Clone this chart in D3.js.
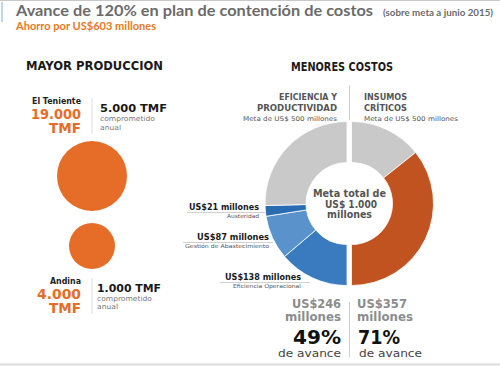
<!DOCTYPE html>
<html><head><meta charset="utf-8">
<script src="https://cdn.jsdelivr.net/npm/d3@7"></script>
<style>html,body{margin:0;padding:0;background:#fff;}svg{display:block;}</style>
</head><body>
<svg id="c" width="500" height="366"></svg>
<script>
// ---- data ----
const titleMain = "Avance de 120% en plan de contención de costos";
const titleNote = "(sobre meta a junio 2015)";
const subtitle = "Ahorro por US$603 millones";
const leftHeader = "MAYOR PRODUCCION";
const rightHeader = "MENORES COSTOS";
const plants = ["El Teniente", "Andina"];
const plantProduction = [19000, 4000];
const plantCommitted = [5000, 1000];
const halfNames = [["EFICIENCIA Y", "PRODUCTIVIDAD"], ["INSUMOS", "CRÍTICOS"]];
const halfGoals = [500, 500];
const efficiencyItems = ["Eficiencia Operacional", "Gestión de Abastecimiento", "Austeridad"];
const efficiencyValues = [138, 87, 21];
const insumosValues = [357];
const totalGoal = 1000;

const loc = d3.formatLocale({decimal: ",", thousands: ".", grouping: [3], currency: ["US$", ""]});
const fmtN = loc.format(",");
const fmtP = d3.format(".0%");

const svg = d3.select("#c");
const BODY = "'DejaVu Sans', sans-serif";
const TITLE = "Lato, 'Open Sans', sans-serif";

function txt(g, s, o) {
  const t = g.append("text").text(s)
    .attr("x", o.x).attr("y", o.y)
    .attr("text-anchor", o.a || "start")
    .attr("font-family", o.f || BODY)
    .attr("font-size", o.s)
    .attr("font-weight", o.b ? "bold" : "normal")
    .attr("fill", o.c || "#1a1a1a");
  if (o.w) t.attr("textLength", o.w).attr("lengthAdjust", "spacingAndGlyphs");
  return t;
}
function line(x1, y1, x2, y2, c, w) {
  svg.append("line").attr("x1", x1).attr("y1", y1).attr("x2", x2).attr("y2", y2)
    .attr("stroke", c).attr("stroke-width", w || 1);
}

// frame
line(0, 0.5, 500, 0.5, "#c8c8c8", 1);
line(2, 2, 2, 22, "#a9c9e8", 1.5);
line(0, 364.5, 500, 364.5, "#dcdcdc", 2);

// titles
txt(svg, titleMain, {x: 16, y: 15.5, s: 16, b: 1, c: "#6b6b6b", f: TITLE, w: 357});
txt(svg, titleNote, {x: 383, y: 15.5, s: 9.5, b: 1, c: "#6b6b6b", f: TITLE, w: 110});
txt(svg, subtitle, {x: 16, y: 30, s: 11.5, b: 1, c: "#e8791e", f: TITLE, w: 140});

// ---- left: production circles ----
txt(svg, leftHeader, {x: 26, y: 70, s: 11.5, b: 1, w: 137});
const ORANGE = "#e66d27";
const rScale = d3.scalePow().exponent(0.27).domain([0, d3.max(plantProduction)]).range([0, 35]);
const circleY = [176, 246];
svg.selectAll("circle.p").data(plantProduction).join("circle")
  .attr("class", "p").attr("cx", 92).attr("cy", (d, i) => circleY[i])
  .attr("r", d => rScale(d)).attr("fill", ORANGE);

const blocks = [
  {top: 104, nameW: 49, numW: 50, bigW: 67, bigX: 100, sub: [121, 130], bigY: 112},
  {top: 284, nameW: 31, numW: 44, bigW: 64, bigX: 97, sub: [300.5, 308.5], bigY: 292}
];
plants.forEach((p, i) => {
  const b = blocks[i];
  txt(svg, p, {x: 81, y: b.top, a: "end", s: 8.5, b: 1, c: "#222", w: b.nameW});
  txt(svg, fmtN(plantProduction[i]), {x: 81, y: b.top + 14.5, a: "end", s: 14, b: 1, c: ORANGE, w: b.numW});
  txt(svg, "TMF", {x: 81, y: b.top + 28.5, a: "end", s: 14, b: 1, c: ORANGE, w: 32});
  line(92, b.top - 6, 92, b.top + 30, "#dddddd", 1);
  txt(svg, fmtN(plantCommitted[i]) + " TMF", {x: b.bigX, y: b.bigY, s: 11, b: 1, c: "#1a1a1a", w: b.bigW});
  txt(svg, "comprometido", {x: b.bigX, y: b.sub[0], s: 7, c: "#777", w: 55});
  txt(svg, "anual", {x: b.bigX, y: b.sub[1], s: 7, c: "#777", w: 21});
});

// ---- right: donut ----
txt(svg, rightHeader, {x: 291, y: 71, s: 11.5, b: 1, w: 102});
line(349.5, 85, 349.5, 120, "#cccccc", 1);
const HG = "#555";
txt(svg, halfNames[0][0], {x: 337, y: 100, a: "end", s: 9, b: 1, c: HG, w: 58});
txt(svg, halfNames[0][1], {x: 337, y: 111, a: "end", s: 9, b: 1, c: HG, w: 80});
txt(svg, "Meta de US$ " + halfGoals[0] + " millones", {x: 337, y: 121, a: "end", s: 6.5, c: HG, w: 94});
txt(svg, halfNames[1][0], {x: 364, y: 100, s: 9, b: 1, c: HG, w: 43});
txt(svg, halfNames[1][1], {x: 364, y: 111, s: 9, b: 1, c: HG, w: 43});
txt(svg, "Meta de US$ " + halfGoals[1] + " millones", {x: 364, y: 121, s: 6.5, c: HG, w: 94});

const effTotal = d3.sum(efficiencyValues);
const insTotal = d3.sum(insumosValues);
const leftData = efficiencyValues.map((v, i) => ({v, k: "e" + i})).concat([{v: halfGoals[0] - effTotal, k: "rest"}]);
const rightData = [{v: halfGoals[1] - insTotal, k: "rest"}].concat(insumosValues.map(v => ({v, k: "ins"})));
const color = d3.scaleOrdinal().domain(["e0", "e1", "e2", "rest", "ins"])
  .range(["#3a7bbf", "#5a93cb", "#2a6cb4", "#c9c9c9", "#c0531f"]);
const arc = d3.arc().innerRadius(41).outerRadius(82);
const cy = 203.5;
const leftPie = d3.pie().value(d => d.v).sort(null).startAngle(Math.PI).endAngle(2 * Math.PI);
const rightPie = d3.pie().value(d => d.v).sort(null).startAngle(0).endAngle(Math.PI);
[[leftPie(leftData), 347], [rightPie(rightData), 351.5]].forEach(([arcs, cx]) => {
  svg.append("g").attr("transform", `translate(${cx},${cy})`)
    .selectAll("path").data(arcs).join("path")
    .attr("d", arc).attr("fill", d => color(d.data.k))
    .attr("stroke", "#fff").attr("stroke-width", 0.8);
});

txt(svg, "Meta total de", {x: 349.5, y: 197, a: "middle", s: 10.5, b: 1, c: HG, w: 73});
txt(svg, "US$ " + fmtN(totalGoal), {x: 351, y: 208, a: "middle", s: 10.5, b: 1, c: HG, w: 52});
txt(svg, "millones", {x: 349.5, y: 218, a: "middle", s: 10.5, b: 1, c: HG, w: 45});

// left callouts (Austeridad, Gestión, Eficiencia)
const callouts = [
  {i: 2, x: 259, y: 210, w: 70, sw: 32, lx: 187, rx: 265},
  {i: 1, x: 269, y: 240, w: 72, sw: 84, lx: 183, rx: 273},
  {i: 0, x: 301, y: 280, w: 76, sw: 68, lx: 220, rx: 310}
];
callouts.forEach(c => {
  txt(svg, "US$" + efficiencyValues[c.i] + " millones", {x: c.x, y: c.y, a: "end", s: 9.5, b: 1, c: "#1a1a1a", w: c.w});
  line(c.lx, c.y + 2.5, c.rx, c.y + 2.5, "#c4c4c4", 0.8);
  txt(svg, efficiencyItems[c.i], {x: c.x, y: c.y + 8, a: "end", s: 5.5, c: "#555", w: c.sw});
});

// bottom summary
line(349.5, 302, 349.5, 357, "#cccccc", 1);
const sums = [effTotal, insTotal];
const sx = [341, 357];
sums.forEach((v, i) => {
  const a = i === 0 ? "end" : "start";
  txt(svg, "US$" + v, {x: sx[i], y: 308, a, s: 12.5, b: 1, c: "#8c8c8c", w: i ? 50 : 49});
  txt(svg, "millones", {x: sx[i], y: 321, a, s: 12.5, b: 1, c: "#8c8c8c", w: 56});
  txt(svg, fmtP(v / halfGoals[i]), {x: i ? 358 : 341, y: 344, a, s: 20, b: 1, c: "#111", w: i ? 42 : 48});
  txt(svg, "de avance", {x: i ? 359 : 341, y: 356.5, a, s: 10.5, c: "#444", w: 63});
});
</script>
</body></html>
